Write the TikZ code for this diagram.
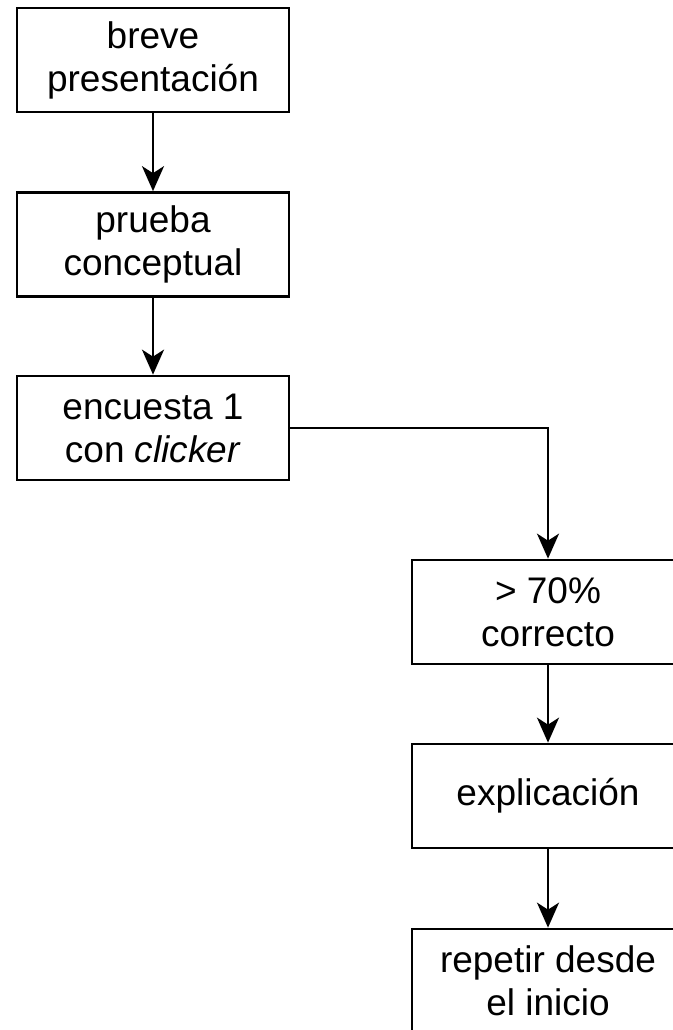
\documentclass[tikz,border=0pt]{standalone}
\usepackage{fontspec}
\setmainfont{Liberation Sans}
\usetikzlibrary{arrows.meta}
\begin{document}
\begin{tikzpicture}[x=1pt,y=1pt,
  box/.style={draw=black, line width=2.7pt, minimum width=272pt, minimum height=104pt,
    inner sep=0pt, align=center, font=\fontsize{37}{43}\selectfont},
  conn/.style={line width=2.4pt, -{Stealth[length=25pt,width=22pt,inset=7pt]}}]
\useasboundingbox (0,0) rectangle (672,-1030);
\node[box] (b1) at (153,-60) {breve\\presentación};
\node[box] (b2) at (153,-244.5) {prueba\\conceptual};
\node[box] (b3) at (153,-428) {encuesta 1\\con \textit{clicker}};
\node[box] (b4) at (548,-612) {> 70\%\\correcto};
\node[box] (b5) at (548,-796) {explicación};
\node[box] (b6) at (548,-981) {repetir desde\\el inicio};
\draw[conn] (b1) -- (b2);
\draw[conn] (b2) -- (b3);
\draw[conn] (b3.east) -| (b4.north);
\draw[conn] (b4) -- (b5);
\draw[conn] (b5) -- (b6);
\end{tikzpicture}
\end{document}
